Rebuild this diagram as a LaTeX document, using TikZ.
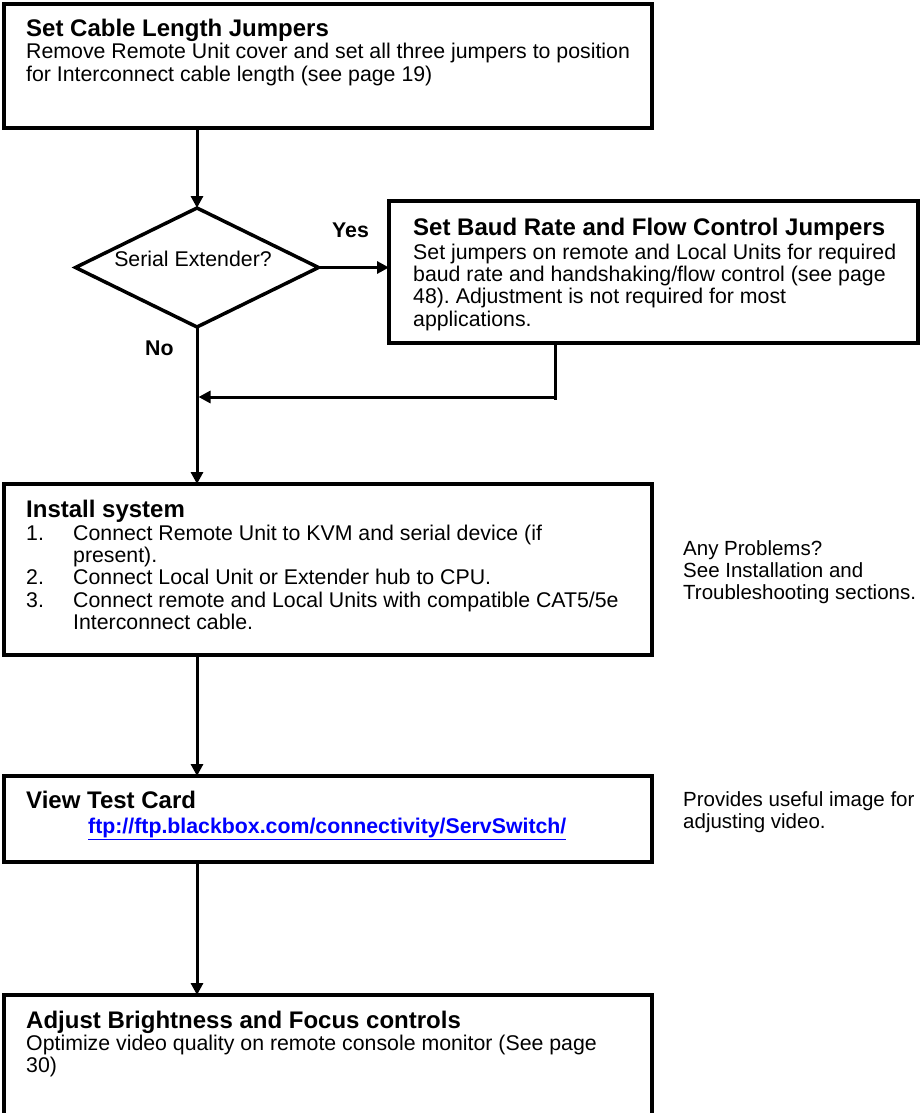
\documentclass[tikz,border=0pt]{standalone}
\usepackage{fontspec}
\setmainfont{Liberation Sans}
\usetikzlibrary{arrows.meta,shapes.geometric}
\newcommand\mylines[1]{\parbox[t]{720pt}{\raggedright\frenchspacing #1}}
\begin{document}
\frenchspacing
\begin{tikzpicture}[x=1pt,y=-1pt,
  box/.style={draw,line width=3.5pt,inner sep=0pt,outer sep=0pt,anchor=north west,minimum width=648pt},
  conn/.style={line width=3pt},
  arr/.style={conn,-{Triangle[length=12pt,width=12pt]}},
  ttl/.style={anchor=base west,inner sep=0pt,font=\fontsize{24}{26}\selectfont\bfseries},
  body/.style={anchor=base west,inner sep=0pt,font=\fontsize{21.3}{22.4}\selectfont},
  side/.style={anchor=base west,inner sep=0pt,font=\fontsize{20.5}{22.2}\selectfont},
  lbl/.style={anchor=base west,inner sep=0pt,font=\fontsize{21.3}{22.4}\selectfont\bfseries},
]
\useasboundingbox (0,0) rectangle (922,1113);
\clip (0,0) rectangle (922,1113);
\fill[white] (0,0) rectangle (922,1113);

% boxes
\node[box,minimum height=124pt] (b1) at (4,4) {};
\node[draw,line width=3.5pt,shape=diamond,inner sep=0pt,outer sep=0pt,minimum width=243pt,minimum height=119pt] (dia) at (197,267.5) {};
\node[box,minimum width=529pt,minimum height=142pt] (b2) at (389,201) {};
\node[box,minimum height=171pt] (b3) at (4,484) {};
\node[box,minimum height=86pt] (b4) at (4,776) {};
\node[box,minimum height=140pt] (b5) at (4,995) {};

% texts
\node[ttl] (t1) at (26,37) {Set Cable Length Jumpers};
\node[body] (x1) at (26,59) {\mylines{Remove Remote Unit cover and set all three jumpers to position\\for Interconnect cable length (see page 19)}};

\node[body,anchor=base] (tdia) at (193,266) {Serial Extender?};
\node[lbl] (yes) at (332,237) {Yes};
\node[lbl] (no) at (145,355) {No};

\node[ttl] (t2) at (413,235) {Set Baud Rate and Flow Control Jumpers};
\node[body] (x2) at (413,259) {\mylines{Set jumpers on remote and Local Units for required\\baud rate and handshaking/flow control (see page\\48). Adjustment is not required for most\\applications.}};

\node[ttl] (t3) at (26,517) {Install system};
\node[body] (x3) at (26,540) {\mylines{\makebox[47pt][l]{1.}Connect Remote Unit to KVM and serial device (if\\\hspace*{47pt}present).\\\makebox[47pt][l]{2.}Connect Local Unit or Extender hub to CPU.\\\makebox[47pt][l]{3.}Connect remote and Local Units with compatible CAT5/5e\\\hspace*{47pt}Interconnect cable.}};
\node[side] (s1) at (683,555) {\mylines{Any Problems?\\See Installation and\\Troubleshooting sections.}};

\node[ttl] (t4) at (26,808) {View Test Card};
\node[lbl,text=blue] (url) at (88,833) {\underline{ftp://ftp.blackbox.com/connectivity/ServSwitch/}};
\node[side] (s2) at (683,806) {\mylines{Provides useful image for\\adjusting video.}};

\node[ttl] (t5) at (26,1028) {Adjust Brightness and Focus controls};
\node[body] (x5) at (26,1050) {\mylines{Optimize video quality on remote console monitor (See page\\30)}};

% connectors
\draw[arr] (b1.south -| dia.north) -- (dia.north);
\draw[arr] (dia.east) -- (dia.east -| b2.west);
\draw[arr] (dia.south) -- (dia.south |- b3.north);
\coordinate (fb) at (555,397);
\coordinate (fbend) at (555,399.5);
\draw[conn] (b2.south -| fb) -- (fbend);
\draw[arr,shorten >=1.5pt] ([xshift=1.5pt]fb) -- (fb -| dia.south);
\draw[arr] (b3.south -| dia.south) -- (b4.north -| dia.south);
\draw[arr] (b4.south -| dia.south) -- (b5.north -| dia.south);
\end{tikzpicture}
\end{document}
